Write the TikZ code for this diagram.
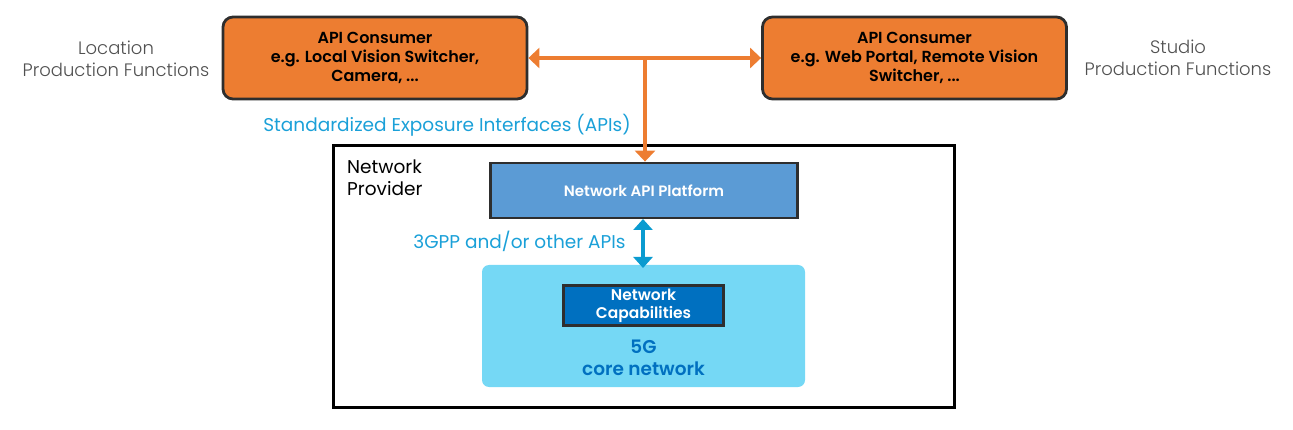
\documentclass[tikz,border=0pt]{standalone}
\usepackage{fontspec}
\setmainfont{Poppins}[BoldFont={Poppins SemiBold}]
\newfontfamily\lightfont{Poppins Light}
\usetikzlibrary{arrows.meta}
\definecolor{orangefill}{HTML}{ED7D31}
\definecolor{darkedge}{HTML}{2E2E2E}
\definecolor{platblue}{HTML}{5B9BD5}
\definecolor{lightcyan}{HTML}{75D8F5}
\definecolor{capblue}{HTML}{0070C0}
\definecolor{labelblue}{HTML}{1AA0D8}
\definecolor{arrowblue}{HTML}{0A9BD0}
\definecolor{graytext}{HTML}{505050}
\begin{document}
\begin{tikzpicture}[x=1pt,y=-1pt,
  consumer/.style={draw=darkedge,line width=2.8pt,fill=orangefill,rounded corners=10pt,
    minimum width=304pt,minimum height=82pt,align=center,font=\fontsize{16}{19}\selectfont\bfseries,text=black,inner sep=0pt},
  sidelabel/.style={align=center,font=\lightfont\fontsize{18}{22.5}\selectfont,text=graytext},
  bluelabel/.style={font=\fontsize{18.5}{22}\selectfont,text=labelblue},
  oarrow/.style={draw=orangefill,line width=4pt,-{Triangle[width=20pt,length=11pt]}},
]
\useasboundingbox (0,0) rectangle (1293,430);
\node[consumer] (lc) at (375,58) {API Consumer\\e.g. Local Vision Switcher,\\Camera, ...};
\node[consumer] (rc) at (914.5,58) {API Consumer\\e.g. Web Portal, Remote Vision\\Switcher, ...};
\node[sidelabel] (ll) at (116,59) {Location\\Production Functions};
\node[sidelabel] (rl) at (1178,58) {Studio\\Production Functions};

\node[draw=black,line width=3.6pt,minimum width=621pt,minimum height=262pt,inner sep=0pt] (np) at (644,276.5) {};
\node[align=left,font=\fontsize{18.5}{22}\selectfont,text=black,inner sep=0pt,anchor=west] (npl) at (347,177.5) {Network\\Provider};

\node[draw=darkedge,line width=2.8pt,fill=platblue,minimum width=307pt,minimum height=55pt,
  font=\fontsize{15}{18}\selectfont\bfseries,text=white,inner sep=0pt] (plat) at (644,190.5) {Network API Platform};

\node[fill=lightcyan,rounded corners=7pt,minimum width=323pt,minimum height=122pt,inner sep=0pt] (core) at (643.5,326) {};
\node[draw=darkedge,line width=2.8pt,fill=capblue,minimum width=160pt,minimum height=40pt,align=center,
  font=\fontsize{15.5}{18}\selectfont\bfseries,text=white,inner sep=0pt] (cap) at (643.5,305.5) {Network\\Capabilities};
\node[align=center,font=\fontsize{18.5}{22}\selectfont\bfseries,text=capblue,inner sep=0pt] (fg) at (643.5,358) {5G\\core network};

\node[bluelabel] (sei) at (447,125) {Standardized Exposure Interfaces (APIs)};
\node[bluelabel] (gpp) at (519.5,241) {3GPP and/or other APIs};

\coordinate (j) at (645,58);
\draw[oarrow] (j) -- (lc.east);
\draw[oarrow] (j) -- (rc.west);
\draw[oarrow] (j) -- (j |- plat.north);
\draw[draw=arrowblue,line width=4pt,{Triangle[width=19pt,length=11pt]}-{Triangle[width=19pt,length=11pt]}] (643,219) -- (643,268);
\end{tikzpicture}
\end{document}
